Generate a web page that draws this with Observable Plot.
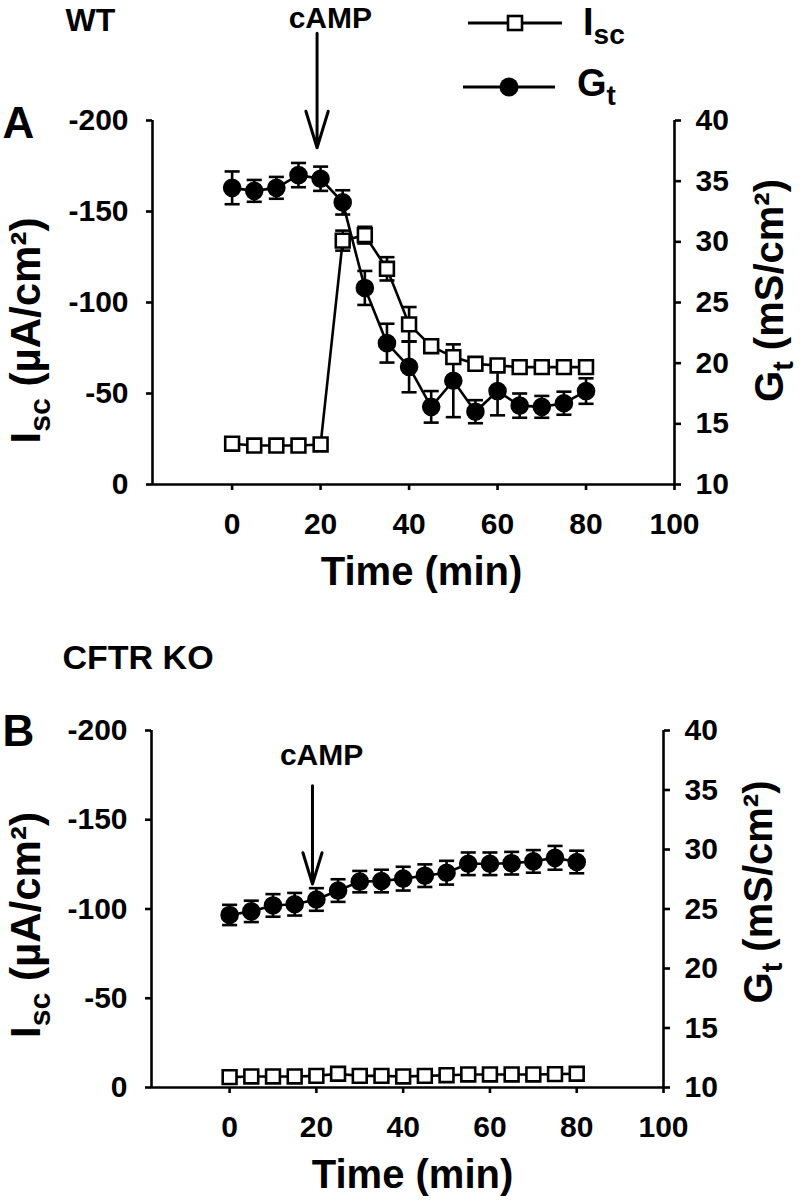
<!DOCTYPE html>
<html>
<head>
<meta charset="utf-8">
<script src="https://cdn.jsdelivr.net/npm/d3@7"></script>
<script src="https://cdn.jsdelivr.net/npm/@observablehq/plot@0.6"></script>
<style>
  body { margin: 0; background: #fff; }
  #wrap { position: relative; width: 800px; height: 1201px; font-family: "Liberation Sans", Arial, sans-serif; }
  #wrap > svg { display: block; }
</style>
</head>
<body>
<div id="wrap"></div>
<script>
// ---------------- data ----------------
const time = [0, 5, 10, 15, 20, 25, 30, 35, 40, 45, 50, 55, 60, 65, 70, 75, 80];

// WT (panel A)
const wtIsc   = [-22.4, -21.4, -21.4, -21.4, -22, -134, -137, -118.5, -88, -76, -70, -66.3, -65.4, -64.5, -64.5, -64.5, -64.5];
const wtIscSE = [1.2, 1.2, 1.2, 1.2, 1.2, 5.5, 4.6, 6.4, 9.5, 3, 3, 2, 2, 2, 2, 2, 3];
const wtGt    = [34.45, 34.2, 34.45, 35.5, 35.2, 33.25, 26.2, 21.65, 19.7, 16.4, 18.55, 16.0, 17.7, 16.5, 16.4, 16.7, 17.7];
const wtGtSE  = [1.35, 0.9, 0.9, 1.0, 1.0, 1.0, 1.4, 1.6, 2.1, 1.3, 3.0, 0.95, 2.0, 1.0, 0.9, 0.95, 1.05];

// CFTR KO (panel B)
const koIsc   = [-5.8, -6.2, -6.2, -6.2, -6.5, -7.7, -6.5, -6.5, -6.2, -6.5, -6.9, -7.3, -7.3, -7.3, -7.3, -7.5, -7.7];
const koIscSE = [0.8, 0.8, 0.8, 0.8, 0.8, 0.8, 0.8, 0.8, 0.8, 0.8, 0.8, 0.8, 0.8, 0.8, 0.8, 0.8, 0.8];
const koGt    = [24.5, 24.8, 25.3, 25.4, 25.8, 26.55, 27.3, 27.35, 27.55, 27.8, 28.05, 28.8, 28.8, 28.85, 29.0, 29.3, 28.95];
const koGtSE  = [0.85, 0.9, 0.95, 0.95, 0.95, 0.95, 0.9, 0.95, 1.0, 0.95, 1.0, 0.95, 0.95, 0.95, 0.95, 1.0, 0.95];

// axes
const xDomain   = [-18, 100];
const xTicks    = [0, 20, 40, 60, 80, 100];
const iscDomain = [0, -200];
const iscTicks  = [0, -50, -100, -150, -200];
const gtDomain  = [10, 40];
const gtTicks   = [10, 15, 20, 25, 30, 35, 40];

// cAMP annotation (time in min, levels in Isc units)
const wtCamp = {labelTime: 22.2, labelLevel: -256, arrowTime: 19.2, arrowFrom: -248, arrowTo: -185};
const koCamp = {labelTime: 21.2, labelLevel: -186, arrowTime: 19.1, arrowFrom: -169, arrowTo: -114};

// ---------------- helpers ----------------
const toIsc = g => iscDomain[0] + (g - gtDomain[0]) * (iscDomain[1] - iscDomain[0]) / (gtDomain[1] - gtDomain[0]);
const fromIsc = y => gtDomain[0] + (y - iscDomain[0]) * (gtDomain[1] - gtDomain[0]) / (iscDomain[1] - iscDomain[0]);

function rowsFor(isc, iscSE, gt, gtSE) {
  return time.map((t, i) => ({
    t,
    isc: isc[i], iscLo: isc[i] - iscSE[i], iscHi: isc[i] + iscSE[i],
    gt: toIsc(gt[i]), gtLo: toIsc(gt[i] - gtSE[i]), gtHi: toIsc(gt[i] + gtSE[i])
  }));
}

const capSymbol = {draw(ctx, size) { const w = Math.sqrt(size) / 2; ctx.moveTo(-w, 0); ctx.lineTo(w, 0); }};
const SW = 2.6;

function series(rows, key, symbol, fill, r) {
  return [
    Plot.line(rows, {x: "t", y: key, stroke: "black", strokeWidth: SW}),
    Plot.ruleX(rows, {x: "t", y1: key + "Lo", y2: key + "Hi", stroke: "black", strokeWidth: SW}),
    Plot.dot(rows, {x: "t", y: key + "Lo", symbol: capSymbol, r: 8.5, fill: "none", stroke: "black", strokeWidth: SW}),
    Plot.dot(rows, {x: "t", y: key + "Hi", symbol: capSymbol, r: 8.5, fill: "none", stroke: "black", strokeWidth: SW}),
    Plot.dot(rows, {x: "t", y: key, symbol, r, fill, stroke: "black", strokeWidth: SW})
  ];
}

function richText(svg, full, parts, size) {
  d3.select(svg).selectAll("text").filter(function() { return this.textContent === full; }).each(function() {
    const t = d3.select(this);
    t.text(null);
    const shift = size * 0.24;
    for (const p of parts) {
      const ts = t.append("tspan").text(p.text);
      if (p.sub) ts.attr("dy", shift).style("font-size", (size * 0.72) + "px");
      else if (p.after) ts.attr("dy", -shift);
    }
  });
}

const hyphenFormat = d => String(d);
const YT = 42;

function panel(cfg) {
  const rows = rowsFor(cfg.isc, cfg.iscSE, cfg.gt, cfg.gtSE);
  const c = cfg.camp;
  const svg = Plot.plot({
    width: 800, height: cfg.height,
    marginLeft: cfg.ml, marginRight: cfg.mr, marginTop: cfg.mt, marginBottom: cfg.mb,
    style: {fontFamily: '"Liberation Sans", Arial, sans-serif', fontWeight: "bold", fontSize: "30px", color: "black", background: "white", overflow: "visible"},
    x: {domain: xDomain},
    y: {domain: iscDomain},
    marks: [
      Plot.ruleX([xDomain[0]], {stroke: "black", strokeWidth: SW}),
      Plot.ruleX([xDomain[1]], {stroke: "black", strokeWidth: SW}),
      Plot.ruleY([iscDomain[0]], {stroke: "black", strokeWidth: SW}),
      Plot.axisX({ticks: xTicks, tickFormat: hyphenFormat, tickSize: 6, tickPadding: 22, label: null, fontSize: 30, fontWeight: "bold", strokeWidth: SW}),
      Plot.axisY({anchor: "left", ticks: iscTicks, tickFormat: hyphenFormat, tickSize: 6, tickPadding: 18, label: null, fontSize: 30, fontWeight: "bold", strokeWidth: SW}),
      Plot.axisY({anchor: "right", ticks: gtTicks.map(toIsc), tickFormat: d => String(Math.round(fromIsc(d))), tickSize: 6, tickPadding: 15, label: null, fontSize: 30, fontWeight: "bold", strokeWidth: SW}),
      ...series(rows, "gt", "circle", "black", 8),
      ...series(rows, "isc", "square", "white", 7.8),
      Plot.arrow([c], {x1: "arrowTime", x2: "arrowTime", y1: "arrowFrom", y2: "arrowTo", stroke: "black", strokeWidth: 3, headLength: 20, headAngle: 34}),
      Plot.text([c], {x: "labelTime", y: "labelLevel", text: () => "cAMP", fontSize: 30, fontWeight: "bold", textAnchor: "middle", lineAnchor: "middle"}),
      Plot.text([cfg.header], {frameAnchor: "top-left", dx: cfg.headerDx, dy: cfg.headerDy, fontSize: cfg.headerSize, fontWeight: "bold", textAnchor: "start", lineAnchor: "middle"}),
      Plot.text([cfg.letter], {frameAnchor: "top-left", dx: cfg.letterDx, dy: cfg.letterDy, fontSize: 44, fontWeight: "bold", textAnchor: "start", lineAnchor: "middle"}),
      Plot.text(["Time (min)"], {frameAnchor: "bottom", dx: cfg.timeDx, dy: 88, fontSize: 40, fontWeight: "bold", textAnchor: "middle", lineAnchor: "middle"}),
      Plot.text(["Isc (µA/cm²)"], {frameAnchor: "left", rotate: -90, dx: cfg.iscTitleDx, dy: cfg.iscTitleDy, fontSize: YT, fontWeight: "bold", textAnchor: "middle", lineAnchor: "middle"}),
      Plot.text(["Gt (mS/cm²)"], {frameAnchor: "right", rotate: -90, dx: 96, dy: cfg.gtTitleDy, fontSize: 40, fontWeight: "bold", textAnchor: "middle", lineAnchor: "middle"})
    ]
  });
  richText(svg, "Isc (µA/cm²)", [{text: "I"}, {text: "sc", sub: true}, {text: " (µA/cm²)", after: true}], YT);
  richText(svg, "Gt (mS/cm²)", [{text: "G"}, {text: "t", sub: true}, {text: " (mS/cm²)", after: true}], 40);
  return svg;
}

const wrap = document.getElementById("wrap");

wrap.appendChild(panel({
  height: 600, ml: 152, mr: 126, mt: 120, mb: 116,
  isc: wtIsc, iscSE: wtIscSE, gt: wtGt, gtSE: wtGtSE, camp: wtCamp,
  header: "WT", headerSize: 32, headerDx: -87, headerDy: -100,
  letter: "A", letterDx: -150, letterDy: 3,
  timeDx: 8, iscTitleDx: -126, iscTitleDy: 28, gtTitleDy: -12
}));

wrap.appendChild(panel({
  height: 601, ml: 151, mr: 137, mt: 130, mb: 114,
  isc: koIsc, iscSE: koIscSE, gt: koGt, gtSE: koGtSE, camp: koCamp,
  header: "CFTR KO", headerSize: 34, headerDx: -89, headerDy: -72,
  letter: "B", letterDx: -149, letterDy: 1,
  timeDx: 5, iscTitleDx: -125, iscTitleDy: 16, gtTitleDy: -17
}));

// ---------------- legend (overlay, top of panel A) ----------------
const legendItems = [
  {name: "I", sub: "sc", symbol: "square"},
  {name: "G", sub: "t", symbol: "circle"}
];
const leg = d3.select(wrap).append("svg")
  .attr("width", 800).attr("height", 120)
  .style("position", "absolute").style("left", "0px").style("top", "0px")
  .style("font-family", '"Liberation Sans", Arial, sans-serif').style("font-weight", "bold");
const legRows = [{x0: 468, x1: 562, y: 23, tx: 583, base: 35}, {x0: 463, x1: 555, y: 87, tx: 577, base: 96}];
legendItems.forEach((item, i) => {
  const L = legRows[i];
  const g = leg.append("g");
  g.append("line").attr("x1", L.x0).attr("x2", L.x1).attr("y1", L.y).attr("y2", L.y).attr("stroke", "black").attr("stroke-width", 3);
  const cx = (L.x0 + L.x1) / 2;
  if (item.symbol === "square") {
    g.append("rect").attr("x", cx - 7).attr("y", L.y - 7).attr("width", 14).attr("height", 14).attr("fill", "white").attr("stroke", "black").attr("stroke-width", 2.6);
  } else {
    g.append("circle").attr("cx", cx).attr("cy", L.y).attr("r", 9.5).attr("fill", "black");
  }
  const t = g.append("text").attr("x", L.tx).attr("y", L.base).attr("font-size", 38);
  t.append("tspan").text(item.name);
  t.append("tspan").attr("dy", 9).attr("font-size", 28).text(item.sub);
});
</script>
</body>
</html>
